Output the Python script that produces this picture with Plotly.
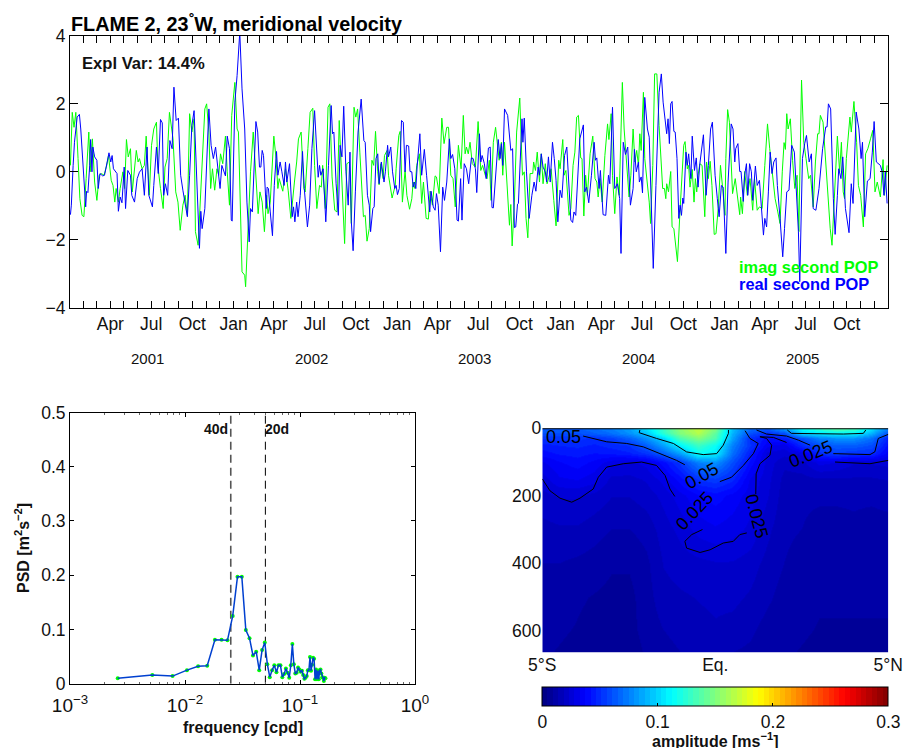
import math
import pandas as pd
import plotly.graph_objects as go

FONT = "Liberation Sans, Arial, sans-serif"
W, H = 903, 748

# --- top panel: POP time series, days since 2001-01-01
real_days = [1,3,7,10,16,21,24,29,33,35,37,40,44,46,49,51,55,60,63,67,73,77,83,87,91,94,97,105,108,112,116,121,124,129,135,138,144,150,155,161,166,172,176,182,184,187,193,197,202,206,209,213,218,223,228,232,237,242,247,252,257,262,267,272,277,282,286,289,292,295,301,307,310,315,320,325,330,335,339,347,351,356,360,362,
368,373,379,384,390,395,400,403,407,411,415,419,423,426,429,432,438,440,443,447,452,456,461,464,469,473,478,481,484,490,496,499,502,506,509,514,519,523,530,535,540,546,551,554,557,560,565,571,577,583,586,589,594,599,603,607,611,616,621,625,628,632,637,643,650,656,659,664,668,671,676,679,683,687,690,695,701,704,709,711,716,720,725,728,
731,735,740,744,748,751,756,759,763,766,769,772,775,781,785,791,796,803,806,811,815,818,822,827,832,836,841,847,850,854,859,864,867,872,875,880,885,890,896,900,905,908,914,917,920,925,929,934,938,942,945,951,956,960,963,966,970,977,984,988,992,995,999,1001,1009,1011,1014,1019,1025,1031,1036,1040,1045,1048,1052,1056,1061,1064,1068,1072,1077,1081,1085,1089,1094,
1098,1104,1109,1114,1118,1122,1125,1129,1133,1138,1146,1149,1153,1158,1164,1170,1173,1176,1181,1184,1190,1196,1202,1205,1211,1216,1222,1227,1230,1235,1240,1245,1251,1257,1260,1264,1269,1271,1275,1278,1283,1289,1293,1297,1302,1308,1315,1320,1324,1332,1335,1338,1341,1344,1348,1351,1355,1359,1362,1365,1368,1370,1375,1378,1381,1386,1389,1394,1398,1402,1406,1414,1420,1425,1430,1434,1440,1445,1449,1454,1458,1464,
1469,1476,1480,1484,1486,1491,1495,1498,1503,1506,1510,1513,1517,1521,1524,1530,1534,1539,1543,1548,1551,1555,1559,1563,1567,1571,1576,1579,1585,1591,1595,1600,1605,1611,1617,1622,1626,1629,1635,1640,1644,1650,1655,1659,1665,1672,1680,1687,1690,1693,1698,1704,1708,1713,1716,1721,1725,1731,1739,1744,1748,1755,1761,1766,1769,1774,1780,1786,1791,1795,1800,1809,1813,1817,1820,1824]
real_vals = [-1.27,-.99,.18,.86,1.60,1.68,1.25,.28,-.50,-1.04,-.58,-.62,.18,.94,-.01,.72,.43,.33,-.50,-.06,-.13,-.11,.28,.55,.28,.47,.08,-.06,-1.17,-.75,-.92,.13,-1.09,.03,-.11,-.70,-.90,-.21,-.02,.08,-.70,.72,-.70,-.94,-1.04,-.41,.72,-.06,1.53,1.43,-.70,-.36,-.70,.91,.67,2.48,1.50,1.57,-.11,-.55,-.99,-1.33,-.11,1.35,1.79,.18,-1.19,-2.26,-1.17,-1.68,-1.09,.86,1.84,.77,.38,.72,-.01,-.50,.18,-.13,1.04,.67,-1.43,-1.46,
2.04,2.82,4.1,2.43,1.25,-.90,-2.07,-1.09,-1.19,.38,1.47,1.16,.13,.13,.62,.47,-1.09,-.46,-.50,-1.19,-1.89,-.41,.59,-.11,.28,-.01,-.41,.28,-.31,.23,-1.33,-1.04,-1.48,-.90,-1.33,-.70,.59,-.50,-1.63,-.99,.67,1.79,.67,-.17,.18,-.11,.08,-1.48,.18,1.94,1.11,1.16,-.36,-1.29,.77,.43,1.92,-.01,-.99,.57,-1.48,-2.33,-.60,1.16,2.13,.91,.86,-.70,-.99,-1.77,-1.09,-1.04,.38,.52,-.36,.28,-.31,-.01,.77,.43,.72,-.01,-.50,-.41,
-.68,-.50,1.50,1.45,-.01,.77,.75,0,-.01,-.46,-.31,-.50,.16,1.11,-.11,.65,-.11,-1.19,-.58,-1.04,-1.14,-.65,-.99,-2.36,-.46,-.85,-.31,.96,.38,.50,.08,-1.43,-1.46,-.21,-1.43,.23,.08,-.36,.40,.38,.08,-.62,1.11,.28,.47,.23,-.21,.69,.72,-1.06,-1.07,.18,.94,.38,.82,.18,1.84,1.65,.62,.67,-1.65,-1.63,-.96,-.94,1.55,.86,1.57,-.01,-1.38,-.70,-.31,-.58,.13,-.11,.52,.13,-.01,-.31,.43,-.31,.86,.38,-.26,-1.48,-.55,
-.77,.47,.72,-.60,-1.43,-1.50,-1.19,-1.29,-.11,.96,1.37,-.60,-.46,-.92,-.11,.86,.33,.40,-.50,.03,-1.27,-1.29,-.11,-.36,1.89,-.50,-.36,-.80,-2.41,.86,.50,.72,-.99,-.50,.65,-.01,.28,-.31,-.16,-.63,2.18,1.25,1.01,-.70,-2.85,-.41,2.33,2.87,2.04,1.11,1.55,.82,1.99,2.06,1.18,1.16,.38,-1.38,-.99,-1.29,-.78,-.94,.57,.18,.52,-.21,1.04,.03,.40,-.46,.23,1.08,-.70,.18,1.25,1.45,-.11,-.80,-1.33,-.41,-.46,-2.41,
-.31,1.40,1.25,.28,.67,.82,0,0,-.88,-.11,.23,-.70,.23,-.01,-.85,.16,-.41,-.26,-.99,-1.87,-1.38,-1.63,-.60,.57,-.06,.28,.40,-.41,-1.38,-2.51,-1.68,-.60,-.55,.77,.57,-.60,-1.77,-3.24,.38,.82,1.06,.28,.52,-1.09,-1.14,-.50,.67,1.31,1.31,1.99,1.84,-.80,-1.85,-.70,.08,-.21,.43,-1.09,-1.80,-.36,-.94,1.75,1.25,.38,.86,-1.33,-.28,-.21,.57,1.47,.28,.18,-.01,-.70,-.01,-.94]

imag_days = [1,5,9,13,18,22,27,31,36,42,45,50,55,60,65,70,76,82,86,92,96,100,103,108,112,118,122,126,130,135,139,143,148,152,155,161,166,170,174,177,182,187,193,196,202,208,212,217,222,230,236,241,246,252,257,262,267,272,277,280,286,291,295,301,305,310,314,318,323,328,332,336,341,347,351,356,361,
368,373,376,384,390,392,397,403,409,415,420,424,429,434,439,442,447,455,460,464,467,475,481,487,493,501,506,510,516,522,525,531,536,542,546,551,557,561,564,570,576,580,585,591,596,601,607,613,618,624,628,634,638,642,647,655,659,663,668,674,678,682,687,690,694,699,702,708,711,719,726,
728,734,737,742,748,752,758,763,766,770,774,780,785,789,795,800,804,809,815,818,824,830,835,841,845,850,855,860,867,873,878,882,885,889,893,898,905,911,917,921,927,931,936,940,945,950,955,958,963,966,970,977,981,984,987,992,997,1004,1010,1014,1018,1022,1027,1033,1035,1039,1043,1048,1052,1056,1061,1065,1070,1074,1080,1085,1091,
1094,1100,1103,1107,1114,1118,1123,1127,1131,1135,1140,1143,1147,1151,1155,1161,1167,1172,1176,1179,1183,1188,1194,1200,1203,1208,1211,1216,1221,1226,1233,1237,1242,1248,1252,1257,1261,1265,1269,1272,1275,1280,1283,1289,1293,1296,1301,1305,1310,1315,1323,1327,1330,1332,1336,1341,1344,1348,1353,1356,1362,1366,1370,1373,1378,1381,1384,1389,1393,1396,1399,1402,1406,1411,1417,1421,1425,1429,1433,1438,1442,1447,1452,1457,1462,
1464,1468,1472,1479,1485,1491,1495,1497,1501,1506,1512,1518,1524,1528,1534,1539,1545,1551,1557,1562,1568,1574,1580,1585,1590,1594,1597,1600,1603,1608,1613,1618,1623,1627,1633,1638,1643,1649,1653,1659,1664,1669,1672,1675,1681,1686,1693,1697,1701,1707,1713,1718,1722,1726,1729,1733,1741,1744,1750,1756,1760,1765,1771,1776,1781,1787,1792,1797,1802,1809,1815,1818,1824]
imag_vals = [.18,1.74,1.30,1.74,.38,-.80,-1.29,-1.33,-.21,1.16,-.01,.96,-.31,-.85,-.11,-.06,-.11,.18,.47,-.26,-.41,-.90,-.50,-.90,-.50,-.01,-.50,.94,.43,.67,-.60,-.11,.62,.28,.38,.08,.18,1.04,-.01,-.70,.77,1.25,1.45,.18,-.50,-1.09,.13,.38,1.74,.96,-.60,-.90,-1.73,-.99,-.70,-1.29,1.70,1.16,1.55,-1.77,-2.17,-.80,.18,1.84,1.99,1.16,-.50,.08,-.55,.08,-.11,.52,.23,1.04,-.01,-.99,1.65,
2.62,1.25,1.16,-2.95,-3.05,-3.39,-1.87,-.01,1.16,-.01,-1.24,-.60,-.90,-1.77,-.70,-1.24,-.90,1.04,.38,-.50,-.21,-.58,.08,-.55,-1.38,-.31,.28,.96,1.16,-.50,-.60,.67,1.74,1.86,.18,-1.09,-.41,-.46,.18,-1.09,1.89,1.99,-.16,-1.14,-1.19,1.50,-.50,-2.12,.23,.28,-1.53,1.89,1.60,1.84,.57,-1.33,-1.29,-2.05,-1.68,.33,.18,1.18,-.01,-.39,.23,-.21,.47,.62,-.11,-.78,-.41,
.08,1.06,1.18,-.90,.03,-.70,-1.11,-.80,-.31,-.50,.18,.52,-.94,-.31,-1.38,-1.40,-.58,-.99,-.13,-.16,-.65,1.57,.82,1.30,1.30,-.11,-.21,-1.04,.77,.08,1.65,.52,.72,.52,.86,.23,.13,1.47,.03,.18,-.11,-.21,.33,-.85,.86,1.30,.77,.33,.86,-.11,.86,-.70,-1.58,-.97,-2.19,-.90,1.16,2.16,-.11,-.01,-1.38,-1.95,-.06,-.06,.28,.03,.57,-.31,.52,-.36,.23,-.36,-.11,.08,-.85,-1.60,.33,
.08,.94,-.11,.03,-1.29,-1.09,.18,.57,1.60,1.65,.40,.38,-1.31,-.11,-.70,.52,1.04,-.21,-.31,-.75,-.21,-.90,.47,1.40,.94,1.70,-.11,-1.24,-.16,-.70,2.62,1.25,.28,-.75,-.11,1.25,.28,.62,.18,1.11,.62,2.33,.38,-.31,-.90,-1.53,.18,2.87,2.87,1.35,-.50,-.50,-.80,-.36,-.60,0,-1.63,-1.68,-2.36,-2.65,-1.09,-.19,.77,.88,.08,.18,-.46,.06,-.90,-.21,-.60,-.11,.23,.18,-1.33,.28,-.21,.30,-.41,-1.85,-1.83,-1.09,.18,-.50,-1.29,
.38,1.82,1.45,-.65,-.21,-.90,-1.27,-.75,-1.24,0,-.70,-.21,-1.14,-.21,-1.14,-1.04,-1.09,.18,1.40,.67,-.11,-.80,-1.19,-1.53,-.01,.85,.65,1.70,1.25,1.55,.33,-.50,-.11,-1.77,2.69,.86,.38,-.21,-.11,-1.04,.28,1.11,1.11,1.65,1.45,.47,-1.09,-1.68,-2.17,-.70,1.04,-.01,.86,-.60,-.80,.38,1.60,1.16,2.06,.86,-.41,-.70,-1.63,.52,.67,.96,1.21,-.60,-.31,-.75,.35,-.70,.18]

year_labels = ["2001", "2002", "2003", "2004", "2005"]
year_days = [172, 538, 904, 1270, 1636]
month_starts = pd.date_range("2001-01-01", "2005-12-01", freq="MS")
month_days = [(d - pd.Timestamp("2001-01-01")).days for d in month_starts]
month_text = [d.strftime("%b") if d.month in (4, 7, 10) or (d.month == 1 and d.year > 2001) else "" for d in month_starts]

# --- lower left: spectrum
psd_freq = [.0026,.0052,.0078,.0104,.013,.0156,.0182,.0208,.0234,.026,.0286,.0312,.0338,.0364,.039,.0416,.0442,.0468,.0494,.052,.0546,.0572,.0598,.0624,.065,.0676,.0702,.0728,.0754,.078,.0806,.0832,.0858,.0884,.091,.0936,.0962,.0988,.1014,.104,.1066,.1092,.1118,.1144,.117,.1196,.1222,.1248,.1274,.13,.1326,.1352,.1378,.1404,.143,.1456,.1482,.1508,.1534,.156,.1586,.1612,.1638,.1664]
psd_vals = [.010,.016,.014,.025,.032,.033,.081,.081,.080,.125,.197,.197,.099,.084,.052,.059,.025,.062,.076,.036,.012,.025,.034,.021,.034,.034,.012,.018,.028,.020,.011,.034,.073,.036,.019,.020,.030,.026,.022,.024,.016,.009,.011,.014,.025,.025,.049,.024,.035,.048,.046,.008,.026,.008,.024,.008,.025,.026,.019,.012,.011,.005,.011,.010]
period_freq = [.025, .05]
period_labels = ["40d", "20d"]

# --- lower right: amplitude section
lat = [-5,-4.5,-4,-3.5,-3,-2.5,-2,-1.5,-1,-.5,0,.5,1,1.5,2,2.5,3,3.5,4,4.5,5]
depth = [0,15,30,50,75,100,150,200,300,400,500,600,665]
amp = [
 [.065,.065,.065,.07,.075,.085,.105,.13,.155,.17,.15,.095,.07,.065,.085,.115,.13,.14,.135,.105,.075],
 [.06,.06,.06,.065,.07,.08,.095,.125,.15,.165,.14,.09,.06,.05,.06,.10,.105,.11,.11,.09,.06],
 [.052,.053,.053,.05,.055,.065,.08,.10,.135,.15,.135,.085,.05,.04,.045,.06,.075,.08,.08,.07,.045],
 [.045,.047,.048,.046,.049,.052,.065,.085,.11,.13,.115,.075,.052,.034,.03,.05,.06,.065,.065,.06,.04],
 [.04,.043,.044,.042,.043,.046,.052,.065,.085,.115,.108,.07,.045,.027,.025,.03,.05,.055,.052,.05,.035],
 [.032,.037,.04,.036,.03,.027,.03,.04,.054,.075,.08,.06,.04,.026,.02,.022,.03,.028,.024,.024,.025],
 [.026,.032,.033,.03,.022,.022,.024,.03,.04,.052,.055,.048,.032,.025,.017,.017,.018,.018,.018,.018,.019],
 [.022,.024,.024,.022,.019,.019,.021,.025,.031,.037,.04,.036,.03,.024,.016,.015,.015,.015,.015,.015,.016],
 [.017,.018,.018,.016,.014,.014,.016,.021,.025,.03,.032,.03,.027,.02,.015,.014,.012,.012,.013,.012,.012],
 [.014,.014,.013,.012,.01,.01,.013,.019,.021,.022,.023,.023,.021,.017,.014,.012,.011,.011,.01,.01,.01],
 [.013,.012,.01,.009,.008,.008,.012,.017,.018,.019,.02,.02,.018,.015,.012,.011,.01,.01,.01,.01,.01],
 [.011,.01,.009,.008,.007,.008,.011,.014,.016,.017,.018,.017,.015,.012,.011,.01,.009,.009,.009,.009,.009],
 [.01,.009,.008,.007,.007,.007,.01,.012,.014,.015,.015,.014,.013,.011,.01,.009,.008,.008,.008,.008,.008],
]
contour_paths = [
 ([-3.82,-3.53,-3.14,-2.56,-2.08,-1.6,-1.12,-.88], [23,30,40,45,55,75,95,108]),
 ([-5,-4.78,-4.49,-4.15,-3.91,-3.53,-3.38,-3.14,-2.66,-2.13,-1.7,-1.45,-1.31,-1.17], [150,185,207,219,207,180,145,115,105,100,110,140,180,202]),
 ([-2.18,-2.2,-1.7,-1.21,-.83,-.35,.04,.23,.38,.38], [5,13,30,45,70,78,75,50,15,5]),
 ([.13,.47,.81,1.1,1.24,1.0,.86], [158,145,110,75,45,30,7]),
 ([1.17,1.18,1.29,1.58,1.63,1.48,1.29,1.68,2.06], [195,135,105,80,50,30,25,27,42]),
 ([1.19,1.48,2.06,2.4,2.74], [5,17,23,35,50]),
 ([3.41,4.47,4.61,4.71,5], [75,78,70,30,18]),
 ([2.08,2.2,3.7,4.28,4.35], [5,15,17,15,5]),
 ([3.46,3.89,4.47,5], [100,103,105,95]),
 ([-.37,-.68,-.88,-.83,-.44,-.15,.23,.52,.71,.91], [300,315,335,355,368,360,340,335,315,310]),
]
contour_labels = ["0.05", "0.05", "0.025", "0.025", "0.025"]
contour_label_lat = [-4.39, -.4, -.6, 1.19, 2.76]
contour_label_depth = [25, 140, 245, 260, 75]
contour_label_angle = [0, -30, -47, 75, -22]
colorbar_ticks = [0, .1, .2, .3]


def jet64():
    out = []
    for i in range(64):
        v = (i + .5) / 64
        r = min(max(min(4 * v - 1.5, -4 * v + 4.5), 0), 1)
        g = min(max(min(4 * v - .5, -4 * v + 3.5), 0), 1)
        b = min(max(min(4 * v + .5, -4 * v + 2.5), 0), 1)
        c = f"rgb({int(r*255)},{int(g*255)},{int(b*255)})"
        out += [[i / 64, c], [(i + 1) / 64, c]]
    return out


def dom_x(a, b):
    return [a / W, b / W]


def dom_y(top, bottom):
    return [1 - bottom / H, 1 - top / H]


fig = go.Figure()
fig.add_trace(go.Scatter(x=imag_days, y=imag_vals, mode="lines", line=dict(color="#00ff00", width=1), xaxis="x", yaxis="y", showlegend=False))
fig.add_trace(go.Scatter(x=real_days, y=real_vals, mode="lines", line=dict(color="#0000ff", width=1), xaxis="x", yaxis="y", showlegend=False))

for f, col, wid in zip(period_freq, ["#555555", "black"], [1.6, 1]):
    fig.add_trace(go.Scatter(x=[f, f], y=[0, .5], mode="lines", line=dict(color=col, width=wid, dash="8px,5px"), xaxis="x2", yaxis="y2", showlegend=False))
fig.add_trace(go.Scatter(x=psd_freq, y=psd_vals, mode="markers", marker=dict(color="#00ff00", size=4), xaxis="x2", yaxis="y2", showlegend=False))
fig.add_trace(go.Scatter(x=psd_freq, y=psd_vals, mode="lines", line=dict(color="#0040d0", width=1.5), xaxis="x2", yaxis="y2", showlegend=False))

fig.add_trace(go.Heatmap(x=lat, y=depth, z=amp, zmin=0, zmax=.3, zsmooth="best", colorscale=jet64(), xaxis="x3", yaxis="y3",
    colorbar=dict(orientation="h", lenmode="pixels", len=346, thicknessmode="pixels", thickness=19, x=715.3/W, xanchor="center", y=1-687/H, yanchor="top",
                  xpad=0, ypad=0, outlinewidth=1, outlinecolor="black", ticks="inside", ticklen=3, tickcolor="black", tickvals=colorbar_ticks, ticktext=["0","0.1","0.2","0.3"],
                  tickfont=dict(family=FONT, size=17.5, color="#111"))))
for lats, deps in contour_paths:
    fig.add_trace(go.Scatter(x=lats, y=deps, mode="lines", line=dict(color="black", width=1), xaxis="x3", yaxis="y3", showlegend=False))
fig.add_trace(go.Scatter(x=[lat[0], lat[-1]], y=[depth[0], depth[0]], mode="lines", line=dict(color="black", width=2), xaxis="x3", yaxis="y3", showlegend=False))

base_ax = dict(showgrid=False, zeroline=False, showline=True, linecolor="black", linewidth=1, mirror="ticks", ticks="inside", tickcolor="black",
               tickfont=dict(family=FONT, size=17.5, color="#111"))
ann = []
def txt(x, y, text, size, color="#111", xanchor="left", angle=0, xref="paper", yref="paper", **kw):
    ann.append(dict(xref=xref, yref=yref, x=x, y=y, xanchor=xanchor, yanchor="middle", showarrow=False, textangle=angle,
                    text=text, font=dict(family=FONT, size=size, color=color), **kw))

txt(69/W, 1-22/H, "<b>FLAME 2, 23<sup>°</sup>W, meridional velocity</b>", 19.8, "black")
txt(80/W, 1-63/H, "<b>Expl Var: 14.4%</b>", 16.6, "#111")
txt(737/W, 1-267/H, "<b>imag second POP</b>", 16.4, "#00ff00")
txt(737/W, 1-284/H, "<b>real second POP</b>", 16.4, "#0000ff")
for lab, d in zip(year_labels, year_days):
    txt(d, 1-358/H, lab, 15, "#111", "center", xref="x")
txt(math.log10(period_freq[0]), .47, f"<b>{period_labels[0]}</b>", 14, "#111", "right", xref="x2", yref="y2", xshift=-1)
txt(math.log10(period_freq[1]), .47, f"<b>{period_labels[1]}</b>", 14, "#111", "left", xref="x2", yref="y2", xshift=-2)
txt(243/W, 1-727/H, "<b>frequency [cpd]</b>", 16, "#111", "center")
txt(22/W, 1-548/H, "<b>PSD [m<sup>2</sup>s<sup>−2</sup>]</b>", 16, "#111", "center", angle=-90)
txt(715/W, 1-740/H, "<b>amplitude [ms<sup>−1</sup>]</b>", 16, "#111", "center")
for t, la, de, an in zip(contour_labels, contour_label_lat, contour_label_depth, contour_label_angle):
    txt(la, de, t, 18, "black", "center", angle=an, xref="x3", yref="y3")

fig.update_layout(
    width=W, height=H, margin=dict(l=0, r=0, t=0, b=0, autoexpand=False), autosize=False,
    paper_bgcolor="white", plot_bgcolor="white", showlegend=False, annotations=ann,
    xaxis=dict(base_ax, domain=dom_x(70, 888), range=[0, 1826], tickvals=month_days, ticktext=month_text, ticklen=7, tickangle=0, anchor="y"),
    yaxis=dict(base_ax, domain=dom_y(35.5, 307.5), range=[-4, 4], tickvals=[-4,-2,0,2,4], ticktext=["−4","−2","0","2","4"], ticklen=8, anchor="x"),
    xaxis2=dict(base_ax, domain=dom_x(70, 415), type="log", range=[-3, 0], tickvals=[.001,.01,.1,1],
                ticktext=["10<sup>−3</sup>","10<sup>−2</sup>","10<sup>−1</sup>","10<sup>0</sup>"], ticklen=4, anchor="y2", tickangle=0,
                ticklabelstandoff=4, minor=dict(ticks="inside", ticklen=2, tickcolor="#666", dtick="D1", showgrid=False),
                tickfont=dict(family=FONT, size=19, color="#111")),
    yaxis2=dict(base_ax, domain=dom_y(412.5, 683.7), range=[0, .5], tickvals=[0,.1,.2,.3,.4,.5], ticktext=["0","0.1","0.2","0.3","0.4","0.5"], ticklen=4, anchor="x2"),
    xaxis3=dict(showgrid=False, zeroline=False, showline=False, ticks="", domain=dom_x(542.3, 888.3), range=[-5, 5], tickvals=[-5,0,5], ticktext=["5°S","Eq.","5°N"],
                tickfont=dict(family=FONT, size=17.5, color="#111"), anchor="y3", tickangle=0),
    yaxis3=dict(showgrid=False, zeroline=False, showline=False, ticks="", domain=dom_y(428.3, 652.7), range=[665, 0], tickvals=[0,200,400,600],
                tickfont=dict(family=FONT, size=17.5, color="#111"), anchor="x3"),
)
fig.write_html("out.html", config={"displayModeBar": False}, post_script="document.body.style.margin='0';document.body.style.overflow='hidden';")
